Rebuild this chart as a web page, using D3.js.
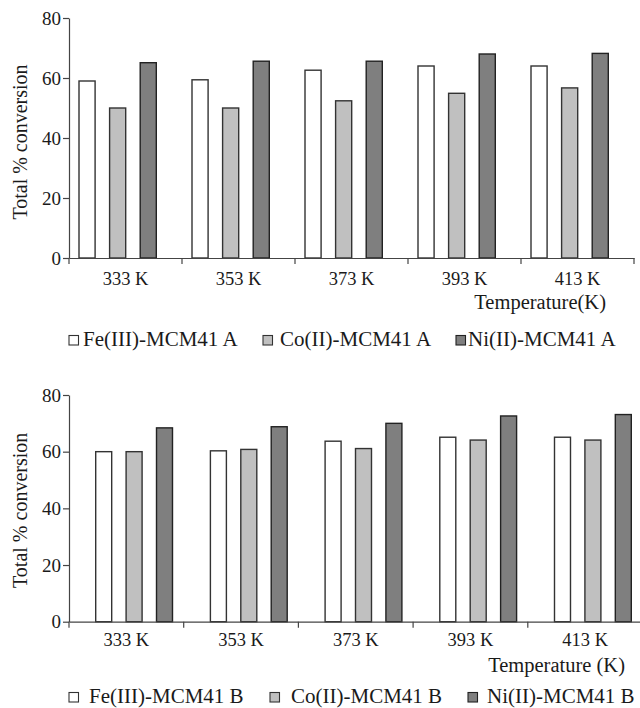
<!DOCTYPE html>
<html>
<head>
<meta charset="utf-8">
<script src="https://cdn.jsdelivr.net/npm/d3@7/dist/d3.min.js"></script>
<style>
  html, body { margin: 0; padding: 0; background: #fff; }
  svg { display: block; }
  text { font-family: "Liberation Serif", "Times New Roman", serif; fill: #1a1a1a; }
</style>
</head>
<body>
<svg id="chart" width="640" height="708"></svg>
<script>
// ---------- data ----------
const categories = ["333 K", "353 K", "373 K", "393 K", "413 K"];
const yTicks = [0, 20, 40, 60, 80];

const seriesA = ["Fe(III)-MCM41 A", "Co(II)-MCM41 A", "Ni(II)-MCM41 A"];
const feA = [59.0, 59.4, 62.6, 64.0, 64.0];
const coA = [50.0, 50.0, 52.4, 54.9, 56.7];
const niA = [65.1, 65.6, 65.6, 68.0, 68.2];

const seriesB = ["Fe(III)-MCM41 B", "Co(II)-MCM41 B", "Ni(II)-MCM41 B"];
const feB = [60.0, 60.3, 63.7, 65.1, 65.1];
const coB = [60.0, 60.8, 61.1, 64.1, 64.1];
const niB = [68.4, 68.8, 70.0, 72.6, 73.1];

const xTitleA = "Temperature(K)";
const xTitleB = "Temperature (K)";
const yTitle = "Total % conversion";

const fills = ["#ffffff", "#c0c0c0", "#7f7f7f"];
const strokes = ["#333333", "#333333", "#222222"];

const svg = d3.select("#chart");

function drawPanel(cfg) {
  const g = svg.append("g");
  const x = d3.scaleBand().domain(categories).range([cfg.x0, cfg.x1]).padding(0);
  const y = d3.scaleLinear().domain([0, 80]).range([cfg.y0, cfg.y1]);
  const B = x.bandwidth();
  const inner = d3.scaleBand().domain(cfg.series)
    .range([cfg.innerStart * B, cfg.innerEnd * B])
    .paddingInner(0.474).paddingOuter(0);

  const values = [cfg.fe, cfg.co, cfg.ni];
  const rows = [];
  categories.forEach((c, i) => {
    cfg.series.forEach((s, k) => rows.push({ c, s, k, v: values[k][i] }));
  });

  g.selectAll("rect.bar").data(rows).join("rect")
    .attr("class", "bar")
    .attr("x", d => x(d.c) + inner(d.s))
    .attr("width", inner.bandwidth())
    .attr("y", d => y(d.v))
    .attr("height", d => y(0) - y(d.v))
    .attr("fill", d => fills[d.k])
    .attr("stroke", d => strokes[d.k])
    .attr("stroke-width", 1.4);

  // y axis
  const ya = g.append("g").attr("transform", `translate(${cfg.x0},0)`)
    .call(d3.axisLeft(y).tickValues(yTicks).tickSize(6).tickPadding(2).tickSizeOuter(0));
  ya.select(".domain").attr("stroke", "#444").attr("stroke-width", 1.2);
  ya.selectAll(".tick line").attr("stroke", "#444").attr("stroke-width", 1.2);
  ya.selectAll(".tick text").style("font-size", "19px").attr("fill", "#1a1a1a")
    .style("font-family", '"Liberation Serif", serif');

  // x axis line + boundary ticks
  const xa = g.append("g").attr("transform", `translate(0,${cfg.y0})`)
    .call(d3.axisBottom(x).tickSize(0).tickPadding(cfg.xLabelPad));
  xa.select(".domain").attr("stroke", "#444").attr("stroke-width", 1.2);
  xa.selectAll(".tick text").style("font-size", "18.5px").attr("fill", "#1a1a1a")
    .style("font-family", '"Liberation Serif", serif');
  const bounds = categories.map(c => x(c)).concat([x(categories[categories.length - 1]) + B]);
  g.selectAll("line.bt").data(bounds).join("line")
    .attr("class", "bt")
    .attr("x1", d => d).attr("x2", d => d)
    .attr("y1", cfg.y0).attr("y2", cfg.y0 + 6)
    .attr("stroke", "#444").attr("stroke-width", 1.2);

  // axis titles
  g.append("text")
    .attr("transform", `translate(${cfg.yTitleX},${(cfg.y0 + cfg.y1) / 2 + cfg.yTitleShift}) rotate(-90)`)
    .attr("text-anchor", "middle").attr("dominant-baseline", "central")
    .style("font-size", "20px").text(yTitle);
  g.append("text")
    .attr("x", cfg.xTitleRight).attr("y", cfg.xTitleY)
    .attr("text-anchor", "end").style("font-size", "20.5px").text(cfg.xTitle);

  // legend
  const lg = g.append("g");
  cfg.series.forEach((s, k) => {
    const lx = cfg.legendX[k];
    lg.append("rect")
      .attr("x", lx).attr("y", cfg.legendY - 10.5)
      .attr("width", 9.5).attr("height", 9.5)
      .attr("fill", fills[k]).attr("stroke", strokes[k]).attr("stroke-width", 1.1);
    lg.append("text")
      .attr("x", cfg.legendTextX[k]).attr("y", cfg.legendY)
      .style("font-size", "21px").text(s);
  });
}

drawPanel({
  series: seriesA, fe: feA, co: coA, ni: niA,
  x0: 69, x1: 634, y0: 258, y1: 18,
  innerStart: 10 / 113, innerEnd: 87.3 / 113,
  xLabelPad: 14, yTitleX: 20, yTitleShift: 4,
  xTitle: xTitleA, xTitleRight: 606, xTitleY: 309,
  legendX: [69, 263, 456], legendTextX: [83, 280, 468], legendY: 346
});

drawPanel({
  series: seriesB, fe: feB, co: coB, ni: niB,
  x0: 69, x1: 642.5, y0: 621.7, y1: 395,
  innerStart: 26.7 / 114.7, innerEnd: 103.5 / 114.7,
  xLabelPad: 11, yTitleX: 20, yTitleShift: 2,
  xTitle: xTitleB, xTitleRight: 625, xTitleY: 672,
  legendX: [69, 270, 468], legendTextX: [89, 291, 487], legendY: 703
});
</script>
</body>
</html>
